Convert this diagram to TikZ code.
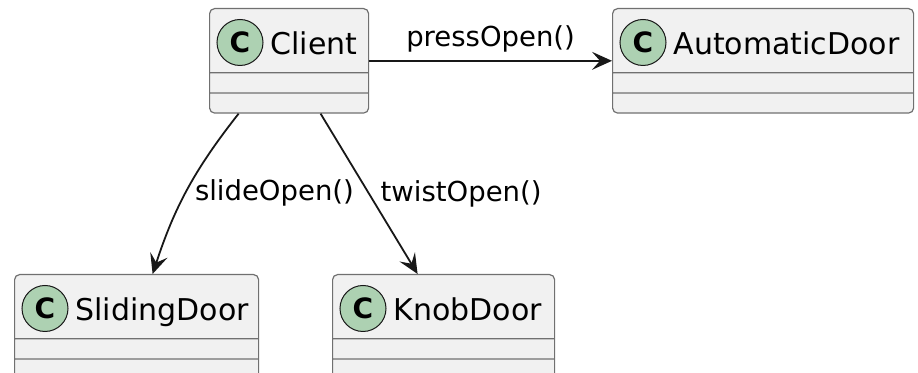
\documentclass[tikz,border=0pt]{standalone}
\usepackage{fontspec}
\setmainfont{DejaVu Sans}
\usepackage{tikz}
\usetikzlibrary{arrows.meta,shapes.multipart,positioning}
\definecolor{classfill}{HTML}{F1F1F1}
\definecolor{classline}{HTML}{181818}
\definecolor{boxline}{HTML}{707070}
\definecolor{badgefill}{HTML}{ADD1B2}

\begin{document}
\begin{tikzpicture}[->,>={Stealth[length=10pt,width=9pt,inset=4pt]},auto,
                    x=0.5pt, y=-0.5pt]
  \tikzstyle{classbox}=[rectangle split, rectangle split parts=3,
    rectangle split part align={left}, draw=boxline, fill=classfill,
    line width=0.6pt, rounded corners=2.5pt, inner xsep=4pt, inner ysep=2pt,
    rectangle split empty part height=4.5pt, rectangle split empty part depth=0pt,
    anchor=north west, font=\fontsize{15pt}{18pt}\selectfont]
  \tikzstyle{badge}=[circle, draw=classline, fill=badgefill, line width=0.5pt,
    minimum size=23pt, inner sep=0pt, font=\fontsize{14pt}{16pt}\selectfont\bfseries]
  \tikzstyle{call}=[draw=classline, line width=0.9pt]
  \tikzstyle{msg}=[font=\fontsize{13.75pt}{16pt}\selectfont, text=black]

    \useasboundingbox (0,0) rectangle (918,373);

    \node[classbox, minimum width=79.5pt]  (client) at (209,8)
        {\rule[-7pt]{0pt}{27.5pt}\hspace{26.5pt}Client\nodepart{two}\nodepart{three}};
    \node[classbox, minimum width=150.5pt] (automatic) at (612,8)
        {\rule[-7pt]{0pt}{27.5pt}\hspace{26.5pt}AutomaticDoor\nodepart{two}\nodepart{three}};
    \node[classbox, minimum width=122pt]   (sliding) at (14,274)
        {\rule[-7pt]{0pt}{27.5pt}\hspace{26.5pt}SlidingDoor\nodepart{two}\nodepart{three}};
    \node[classbox, minimum width=111pt]   (knob) at (332,274)
        {\rule[-7pt]{0pt}{27.5pt}\hspace{26.5pt}KnobDoor\nodepart{two}\nodepart{three}};

    \node[badge] (clientC)    at ([shift={(15.5pt,-17.25pt)}]client.north west)    {C};
    \node[badge] (automaticC) at ([shift={(15.5pt,-17.25pt)}]automatic.north west) {C};
    \node[badge] (slidingC)   at ([shift={(15.5pt,-17.25pt)}]sliding.north west)   {C};
    \node[badge] (knobC)      at ([shift={(15.5pt,-17.25pt)}]knob.north west)      {C};

  \path (client.east) edge [call] node [msg, above=0.5pt] {pressOpen()} (automatic.west)
        ([xshift=-25.25pt]client.south) edge [call, bend right=10]
            node [msg, anchor=west, yshift=-1.5pt] {slideOpen()} ([xshift=8pt]sliding.north)
        ([xshift=15.75pt]client.south) edge [call]
            node [msg, anchor=west, xshift=2pt] {twistOpen()} ([xshift=-13pt]knob.north);

\end{tikzpicture}
\end{document}
